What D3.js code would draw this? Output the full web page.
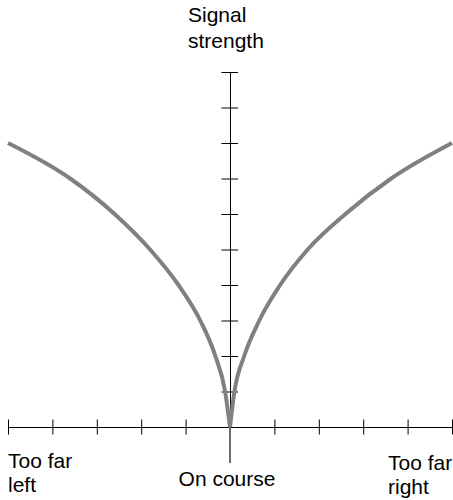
<!DOCTYPE html>
<html>
<head>
<meta charset="utf-8">
<script src="https://cdn.jsdelivr.net/npm/d3@7"></script>
<style>
    body { margin: 0; background: #fff; }
    text { font-family: "Liberation Sans", Arial, sans-serif; font-size: 21px; fill: #000; }
</style>
</head>
<body>
<div id="chart"></div>
<script>
// Signal strength vs. course offset

const leftOffset = [-5, -3.6, -2.6, -1.8, -1.16, -0.67, -0.33, -0.11, 0];
const leftStrength = [8, 7, 6, 5, 4, 3, 2, 1, 0];
const rightOffset = [0, 0.1, 0.32, 0.66, 1.13, 1.75, 2.6, 3.63, 5];
const rightStrength = [0, 1, 2, 3, 4, 5, 6, 7, 8];
const xTicks = [-5, -4, -3, -2, -1, 0, 1, 2, 3, 4, 5];
const yTicks = [1, 2, 3, 4, 5, 6, 7, 8, 9, 10];

function drawChart() {
    const W = 453, H = 500;

    const svg = d3.select("#chart")
        .append("svg")
        .attr("width", W)
        .attr("height", H);

    // Scales
    const x = d3.scaleLinear().domain([-5, 5]).range([8, 452]);
    const y = d3.scaleLinear().domain([0, 10]).range([427, 72]);

    // X axis, ticks cross the line
    const xAxis = svg.append("g")
        .attr("transform", `translate(0,${y(0)})`)
        .call(d3.axisBottom(x).tickValues(xTicks).tickSizeOuter(0).tickFormat(""));
    xAxis.selectAll(".tick line").attr("y1", -7.5).attr("y2", 7.5);

    // Y axis
    const yAxis = svg.append("g")
        .attr("transform", `translate(${x(0)},0)`)
        .call(d3.axisLeft(y).tickValues(yTicks).tickSizeOuter(0).tickFormat(""));
    yAxis.selectAll(".tick line").attr("x1", -8.5).attr("x2", 8);

    svg.selectAll(".domain, .tick line").attr("stroke", "#000").attr("stroke-width", 1);

    // "On course" marker below the axis
    svg.append("line")
        .attr("x1", x(0)).attr("x2", x(0))
        .attr("y1", y(0)).attr("y2", 463)
        .attr("stroke", "#6e6e6e")
        .attr("stroke-width", 2);

    // Curves
    const line = d3.line()
        .x(d => x(d[0]))
        .y(d => y(d[1]))
        .curve(d3.curveMonotoneX);

    const leftPts = leftOffset.map((v, i) => [v, leftStrength[i]]);
    const rightPts = rightOffset.map((v, i) => [v, rightStrength[i]]);

    [leftPts, rightPts].forEach(pts => {
        svg.append("path")
            .attr("d", line(pts))
            .attr("fill", "none")
            .attr("stroke", "#808080")
            .attr("stroke-width", 4);
    });

    // Labels
    svg.append("text").attr("x", 188).attr("y", 22).text("Signal");
    svg.append("text").attr("x", 188).attr("y", 48).text("strength");

    svg.append("text").attr("x", 8).attr("y", 468).text("Too far");
    svg.append("text").attr("x", 8).attr("y", 492).text("left");

    svg.append("text").attr("x", 227).attr("y", 486)
        .attr("text-anchor", "middle").text("On course");

    svg.append("text").attr("x", 388).attr("y", 470).text("Too far");
    svg.append("text").attr("x", 388).attr("y", 494).text("right");
}

document.addEventListener('DOMContentLoaded', drawChart);
</script>
</body>
</html>
